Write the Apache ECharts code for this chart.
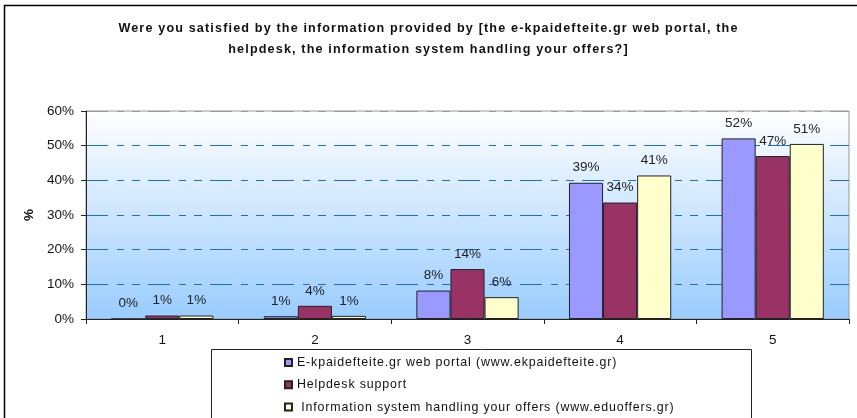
<!DOCTYPE html>
<html>
<head>
<meta charset="utf-8">
<script src="https://cdn.jsdelivr.net/npm/echarts@6/dist/echarts.min.js"></script>
<style>html,body{margin:0;padding:0;background:#fff}#c{width:857px;height:418px}</style>
</head>
<body>
<div id="c"></div>
<script>
const categories = ['1', '2', '3', '4', '5'];
const portalValues = [0, 0.8, 8.2, 39.3, 52.1];
const helpdeskValues = [1, 3.8, 14.4, 33.6, 47.0];
const offersValues = [1, 0.9, 6.3, 41.4, 50.5];
const seriesNames = [
  'E-kpaidefteite.gr web portal (www.ekpaidefteite.gr)',
  'Helpdesk support',
  ' Information system handling your offers (www.eduoffers.gr)'
];
const titleText = 'Were you satisfied by the information provided by [the e-kpaidefteite.gr web portal, the\nhelpdesk, the information system handling your offers?]';

// letter spacing for the title and legend text (the original is set loosely)
const spacingBySize = {'12.6px': '1.15px', '12.4px': '0.85px'};
['fillText', 'strokeText', 'measureText'].forEach(fn => {
  const orig = CanvasRenderingContext2D.prototype[fn];
  CanvasRenderingContext2D.prototype[fn] = function (...a) {
    if ('letterSpacing' in this) {
      const m = (this.font || '').match(/(\d+(?:\.\d+)?px)/);
      this.letterSpacing = (m && spacingBySize[m[1]]) || '0px';
    }
    return orig.apply(this, a);
  };
});

const FONT = 'Liberation Sans, Arial, sans-serif';
const chart = echarts.init(document.getElementById('c'), null, {renderer: 'canvas'});
const lbl = {
  show: true, position: 'top', distance: 8,
  fontFamily: FONT, fontSize: 13.5, color: '#222',
  formatter: p => Math.round(p.value) + '%'
};
function bar(name, data, color) {
  return {
    name, type: 'bar', data, barGap: '0%', barCategoryGap: '33%',
    itemStyle: {color, borderColor: '#222', borderWidth: 1},
    label: lbl, z: 3
  };
}
chart.setOption({
  animation: false,
  textStyle: {fontFamily: FONT},
  graphic: [
    {type: 'rect', shape: {x: 4.5, y: 5.5, width: 900, height: 500}, style: {fill: 'none', stroke: '#000', lineWidth: 1.5}, z: -10},
    {type: 'rect', shape: {x: 211.5, y: 349.5, width: 540, height: 100}, style: {fill: '#fff', stroke: '#222', lineWidth: 1}, z: 0}
  ],
  title: {
    text: titleText, left: 'center', top: 13,
    textStyle: {fontFamily: FONT, fontSize: 12.6, fontWeight: 'bold', color: '#111', lineHeight: 21}
  },
  legend: {
    orient: 'vertical', left: 284, top: 356, height: 70, padding: 0,
    itemWidth: 7, itemHeight: 7, itemGap: 9.5,
    icon: 'rect',
    textStyle: {fontFamily: FONT, fontSize: 12.4, color: '#111'},
    data: seriesNames, z: 5
  },
  grid: {
    left: 86, right: 8, top: 111, bottom: 99, show: true,
    borderColor: '#999', borderWidth: 1,
    backgroundColor: new echarts.graphic.LinearGradient(0, 0, 0, 1, [
      {offset: 0, color: '#ffffff'}, {offset: 1, color: '#99ccff'}
    ])
  },
  xAxis: {
    type: 'category', data: categories,
    axisLine: {lineStyle: {color: '#222', width: 1}},
    axisTick: {show: true, length: 5, lineStyle: {color: '#222'}},
    axisLabel: {fontFamily: FONT, fontSize: 13.5, color: '#111', margin: 14}
  },
  yAxis: {
    type: 'value', min: 0, max: 60, interval: 10,
    name: '%', nameLocation: 'middle', nameGap: 47, nameRotate: 90,
    nameTextStyle: {fontFamily: FONT, fontSize: 13.5, fontWeight: 'bold', color: '#111'},
    axisLine: {show: true, lineStyle: {color: '#222', width: 1}},
    axisTick: {show: true, length: 5, lineStyle: {color: '#222'}},
    axisLabel: {fontFamily: FONT, fontSize: 13.5, color: '#111', margin: 12, formatter: v => v + '%'},
    splitLine: {show: true, lineStyle: {
      color: ['#1a6fd6', '#1a6fd6', '#1a6fd6', '#1a6fd6', '#1a6fd6', '#1a6fd6', '#999999'],
      width: 1, type: [22, 9, 7, 8, 8, 8]
    }}
  },
  series: [
    bar(seriesNames[0], portalValues, '#9999ff'),
    bar(seriesNames[1], helpdeskValues, '#993366'),
    bar(seriesNames[2], offersValues, '#ffffcc')
  ]
});
</script>
</body>
</html>
